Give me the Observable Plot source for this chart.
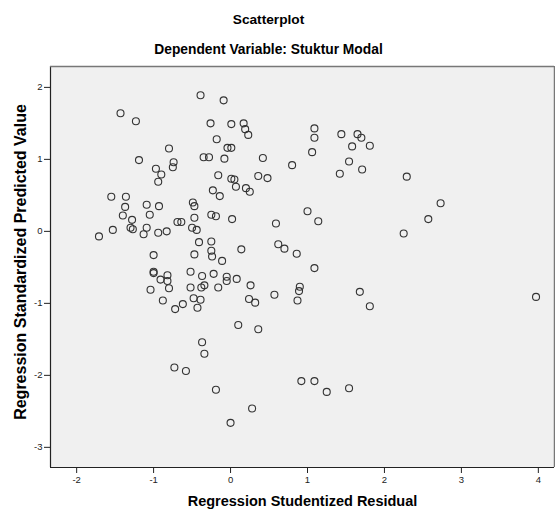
<!DOCTYPE html>
<html>
<head>
<meta charset="utf-8">
<script src="https://cdn.jsdelivr.net/npm/d3@7"></script>
<script src="https://cdn.jsdelivr.net/npm/@observablehq/plot@0.6"></script>
<style>
  body { margin: 0; background: #fff; font-family: "Liberation Sans", Arial, sans-serif; }
  #wrap { width: 555px; }
  .t1 { height: 34px; line-height: 40px; text-align: center; font-weight: bold; font-size: 13.7px; color: #000; padding-right: 18px; }
  .t2 { height: 26px; line-height: 32px; text-align: center; font-weight: bold; font-size: 13.8px; color: #000; padding-right: 18px; }
  svg { display: block; }
</style>
</head>
<body>
<div id="wrap">
  <div class="t1">Scatterplot</div>
  <div class="t2">Dependent Variable: Stuktur Modal</div>
  <div id="chart"></div>
</div>
<script>
const title = "Scatterplot";
const subtitle = "Dependent Variable: Stuktur Modal";
const xLabel = "Regression Studentized Residual";
const yLabel = "Regression Standardized Predicted Value";
const xTicks = [-2, -1, 0, 1, 2, 3, 4];
const yTicks = [-3, -2, -1, 0, 1, 2];

// Regression Studentized Residual
const residual = [
  -0.39, -0.09, -1.43, -1.23, -0.26, 0.01, 0.17, 0.19, 0.23, -0.18,
  -0.80, -0.04, 0.01, -1.19, -0.35, -0.28, -0.08, -0.74, -0.97, -0.75,
  -0.90, -0.16, -0.94, 0.01, 0.05, 0.07, -0.23, -0.14, -1.55, -1.36,
  -1.37, -1.09, -0.93, -0.49, -0.47, -1.40, -1.05, -1.28, -0.47, -0.25,
  -0.19, 0.02, -0.69, -0.64, -1.53, -1.30, -1.27, -1.09, -0.50, -0.44,
  -1.71, -1.13, -0.94, -0.83, 0.42, 0.80, 1.09, 1.09, 1.06, 1.44,
  1.65, 1.70, 1.58, 1.81, 1.54, 1.42, 1.71, 0.36, 0.48, 0.20,
  0.25, 0.59, 1.00, 1.14, 2.29, 2.73, 2.57, 2.25, 3.97, -0.41,
  -0.25, -0.25, -0.24, -0.47, -0.11, -1.00, -1.00, -1.00, -0.82, -0.91,
  -0.82, -0.80, -1.04, -0.52, -0.37, -0.22, -0.05, -0.05, 0.08, -0.52,
  -0.38, -0.34, -0.16, -0.48, -0.39, -0.88, -0.62, -0.72, -0.43, 0.10,
  -0.37, -0.34, -0.73, -0.58, 0.14, 0.62, 0.70, 0.86, 1.09, 0.26,
  0.24, 0.32, 0.57, 0.90, 0.89, 0.87, 1.68, 1.81, 0.36, -0.19,
  0.92, 1.09, 1.25, 1.54, 0.28, 0.00
];
// Regression Standardized Predicted Value
const predicted = [
  1.89, 1.82, 1.64, 1.53, 1.50, 1.49, 1.50, 1.42, 1.34, 1.28,
  1.15, 1.16, 1.16, 0.99, 1.03, 1.03, 1.01, 0.96, 0.87, 0.89,
  0.79, 0.78, 0.69, 0.73, 0.72, 0.62, 0.57, 0.49, 0.48, 0.48,
  0.34, 0.37, 0.35, 0.40, 0.35, 0.22, 0.23, 0.16, 0.19, 0.23,
  0.21, 0.17, 0.13, 0.13, 0.02, 0.05, 0.03, 0.05, 0.05, 0.02,
  -0.07, -0.04, -0.02, 0.00, 1.02, 0.92, 1.43, 1.30, 1.10, 1.35,
  1.35, 1.30, 1.18, 1.19, 0.97, 0.80, 0.86, 0.77, 0.74, 0.60,
  0.55, 0.11, 0.28, 0.14, 0.76, 0.39, 0.17, -0.03, -0.91, -0.15,
  -0.14, -0.27, -0.35, -0.32, -0.41, -0.33, -0.56, -0.58, -0.61, -0.67,
  -0.69, -0.79, -0.81, -0.56, -0.62, -0.59, -0.63, -0.69, -0.66, -0.78,
  -0.78, -0.75, -0.78, -0.93, -0.95, -0.96, -1.01, -1.08, -1.06, -1.30,
  -1.54, -1.70, -1.89, -1.94, -0.25, -0.18, -0.24, -0.31, -0.51, -0.75,
  -0.94, -0.99, -0.88, -0.77, -0.83, -0.96, -0.84, -1.04, -1.36, -2.20,
  -2.08, -2.08, -2.23, -2.18, -2.46, -2.66
];

const data = residual.map((x, i) => ({x, y: predicted[i]}));

const chart = Plot.plot({
  width: 555,
  height: 453,
  marginTop: 6,
  marginBottom: 46,
  marginLeft: 50,
  marginRight: 1,
  style: {fontFamily: "'Liberation Sans', Arial, sans-serif", fontSize: "9.5px", color: "#222", background: "#fff"},
  x: {domain: [-2.34, 4.21], ticks: xTicks, tickFormat: d => d, label: null, tickSize: 6, tickPadding: 3},
  y: {domain: [-3.28, 2.29], ticks: yTicks, tickFormat: d => d, label: null, tickSize: 6, tickPadding: 2},
  marks: [
    Plot.frame({fill: "#f0f0f0", stroke: null}),
    Plot.dot(data, {x: "x", y: "y", r: 3.5, stroke: "#333", strokeWidth: 1.1, fill: "none"}),
    Plot.ruleX([-2.34], {stroke: "#222", strokeWidth: 1.2}),
    Plot.ruleY([-3.28], {stroke: "#222", strokeWidth: 1.2}),
    Plot.ruleY([2.29], {stroke: "#777", strokeWidth: 1.5}),
    Plot.ruleX([4.21], {stroke: "#777", strokeWidth: 1.5}),
    Plot.axisX({ticks: xTicks, tickFormat: d => d, tickSize: 6, tickPadding: 3, label: null, stroke: "#222"}),
    Plot.axisY({ticks: yTicks, tickFormat: d => d, tickSize: 6, tickPadding: 2, label: null, stroke: "#222"}),
    Plot.text([xLabel], {frameAnchor: "bottom", dy: 38, fontSize: 14.5, fontWeight: "bold", fill: "#000"}),
    Plot.text([yLabel], {frameAnchor: "left", textAnchor: "middle", dx: -30, dy: -5, rotate: -90, fontSize: 16, fontWeight: "bold", fill: "#000"})
  ]
});
document.getElementById("chart").appendChild(chart);
</script>
</body>
</html>
